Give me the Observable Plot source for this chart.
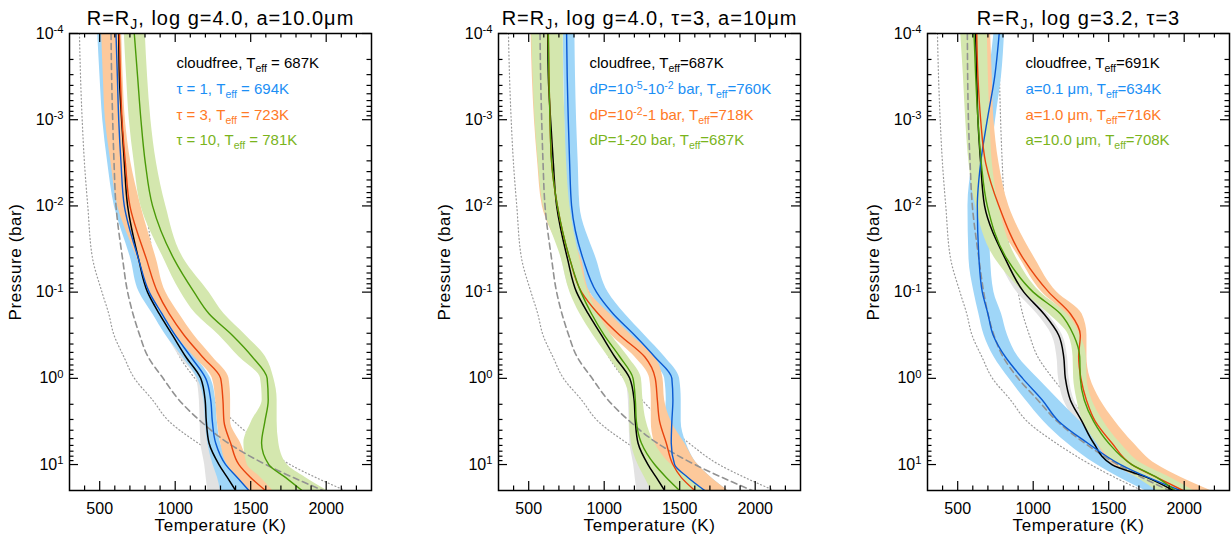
<!DOCTYPE html>
<html><head><meta charset="utf-8">
<script src="https://cdn.jsdelivr.net/npm/d3@7"></script>
<script src="https://cdn.jsdelivr.net/npm/@observablehq/plot@0.6"></script>
<style>
body{margin:0;background:#fff;}
#wrap{position:relative;width:1232px;height:538px;overflow:hidden;}
#wrap svg{position:absolute;top:0;}
</style></head><body><div id="wrap"></div>
<script>
// ---------- data (pressure in bar, temperature in K) ----------
const pressure = [0.0001,0.000316,0.001,0.00316,0.01,0.0417,0.1,0.178,0.316,0.562,1,1.78,3.16,5.62,10,14.1,20];

// panel 1: log g = 4.0, a = 10 micron, varying tau
const p1Cloudfree   = [626,630,645,663,685,758,817,894,982,1070,1169,1198,1206,1224,1290,1345,1400];
const p1CloudfreeLo = [586,590,605,623,645,718,777,854,942,1030,1140,1160,1165,1170,1195,1205,1215];
const p1CloudfreeHi = [646,650,665,683,705,778,837,914,1002,1090,1189,1218,1226,1244,1310,1365,1420];
const p1Tau1   = [608,617,626,641,663,758,828,912,1000,1103,1202,1235,1246,1268,1334,1411,1488];
const p1Tau1Lo = [487,502,520,553,597,707,762,850,938,1048,1147,1190,1200,1215,1250,1280,1300];
const p1Tau1Hi = [641,650,659,674,696,791,861,945,1033,1136,1235,1268,1279,1301,1367,1444,1521];
const p1Tau3   = [630,637,648,670,700,810,883,960,1059,1180,1301,1316,1323,1367,1422,1499,1598];
const p1Tau3Lo = [513,524,538,575,619,751,828,916,1004,1125,1246,1268,1279,1301,1345,1411,1488];
const p1Tau3Hi = [645,655,670,707,773,876,938,1026,1125,1246,1356,1367,1367,1433,1499,1576,1653];
const p1Tau10   = [729,751,773,802,850,993,1125,1224,1378,1510,1609,1616,1594,1572,1620,1730,1840];
const p1Tau10Lo = [663,678,696,729,773,927,1037,1136,1290,1422,1565,1576,1506,1455,1477,1565,1646];
const p1Tau10Hi = [802,817,839,876,938,1059,1224,1323,1466,1598,1653,1675,1675,1686,1741,1862,2005];

// panel 2: log g = 4.0, tau = 3, a = 10 micron, varying cloud pressure range
const p2Cloudfree = p1Cloudfree, p2CloudfreeLo = p1CloudfreeLo, p2CloudfreeHi = p1CloudfreeHi;
const p2Upper   = [751,755,762,771,784,861,949,1059,1202,1334,1448,1455,1448,1444,1466,1554,1666];
const p2UpperLo = [729,733,738,744,751,828,905,1015,1147,1290,1400,1411,1400,1422,1455,1532,1620];
const p2UpperHi = [806,810,817,828,839,949,1026,1136,1268,1400,1499,1510,1510,1543,1620,1708,1818];
const p2Middle   = [630,634,641,652,690,773,850,960,1103,1268,1338,1352,1367,1411,1455,1510,1600];
const p2MiddleLo = [516,524,538,560,590,740,828,927,1048,1202,1301,1312,1312,1334,1400,1466,1554];
const p2MiddleHi = [650,655,665,680,705,850,905,1037,1180,1334,1389,1400,1444,1532,1620,1708,1818];
const p2Deep   = [630,634,641,652,690,773,846,916,1000,1103,1191,1206,1213,1246,1334,1411,1499];
const p2DeepLo = [520,529,542,564,597,718,773,839,927,1026,1125,1169,1169,1180,1224,1268,1312];
const p2DeepHi = [729,731,740,751,773,839,894,960,1048,1158,1246,1257,1279,1334,1444,1554,1664];

// panel 3: log g = 3.2, tau = 3, varying particle size
const p3Cloudfree   = [619,626,634,652,678,817,938,1070,1169,1202,1213,1246,1323,1400,1521,1752,1928];
const p3CloudfreeLo = [574,581,589,607,633,772,893,1025,1124,1157,1168,1201,1278,1355,1476,1707,1883];
const p3CloudfreeHi = [644,651,659,677,703,842,963,1095,1194,1227,1238,1271,1348,1425,1546,1777,1953];
const p3Small   = [775,745,696,652,630,641,663,700,735,815,930,1060,1170,1360,1578,1760,1975];
const p3SmallLo = [740,705,652,597,568,575,608,640,675,740,839,950,1070,1224,1420,1570,1740];
const p3SmallHi = [810,790,751,718,707,718,740,790,830,900,1030,1169,1312,1470,1680,1860,2040];
const p3Mid   = [626,634,652,685,773,938,1103,1246,1312,1301,1316,1352,1411,1521,1653,1818,1992];
const p3MidLo = [619,623,630,663,718,916,1059,1213,1268,1268,1279,1301,1334,1422,1532,1686,1840];
const p3MidHi = [718,729,740,773,839,1015,1158,1323,1356,1356,1378,1444,1543,1664,1818,1980,2174];
const p3Large   = [608,619,634,656,696,828,1000,1180,1268,1308,1312,1338,1400,1499,1653,1818,1939];
const p3LargeLo = [520,538,553,575,619,751,938,1103,1235,1264,1268,1290,1330,1422,1554,1686,1818];
const p3LargeHi = [696,703,714,729,773,894,1048,1224,1312,1352,1356,1389,1466,1576,1730,1906,2060];

// reference curves (adiabats dashed, condensation curves dotted)
const adiabatG40 = [575,579,586,595,608,652,685,720,765,820,920,1025,1170,1350,1600,1780,1980];
const adiabatG32 = [564,566,571,582,597,641,672,700,740,800,900,1030,1160,1340,1560,1720,1900];
const condensA = [366,373,384,399,421,454,515,560,595,660,730,850,960,1150,1380,1540,1720];
const condensB = [773,777,784,795,810,855,900,930,975,1030,1130,1250,1390,1560,1760,1930,2126];

// axes
const xMajorTicks = [500,1000,1500,2000];
const yMajorTicks = [1e-4,1e-3,1e-2,1e-1,1,10];
const titles = [
  "R=R_{J}, log g=4.0, a=10.0μm",
  "R=R_{J}, log g=4.0, τ=3, a=10μm",
  "R=R_{J}, log g=3.2, τ=3"
];
const legends = [
  ["cloudfree, T_{eff} = 687K","τ = 1, T_{eff} = 694K","τ = 3, T_{eff} = 723K","τ = 10, T_{eff} = 781K"],
  ["cloudfree, T_{eff}=687K","dP=10^{-5}-10^{-2} bar, T_{eff}=760K","dP=10^{-2}-1 bar, T_{eff}=718K","dP=1-20 bar, T_{eff}=687K"],
  ["cloudfree, T_{eff}=691K","a=0.1 μm, T_{eff}=634K","a=1.0 μm, T_{eff}=716K","a=10.0 μm, T_{eff}=708K"]
];
const xLabel = "Temperature (K)", yLabel = "Pressure (bar)";

// ---------- styling ----------
const FONT = "'Liberation Sans', Arial, Helvetica, sans-serif";
const lineColors = ["#000000","#0a5ad2","#e8430e","#4a9a08"];
const bandColors = ["#e2e2e2","#9fd6f8","#fdc99b","#d4e7ae"];
const textColors = ["#000000","#1c8ff5","#ff7a26","#7ab41c"];
const H = 538, MT = 33, MB = 48;
const legendDy = [30,56,82,107];

const xMinorTicks = d3.range(400, 2300, 100).filter(v => v % 500 !== 0);
const yMinorTicks = [];
for (let e = -4; e <= 1; e++) for (let m = 2; m <= 9; m++) { const v = m * Math.pow(10, e); if (v < 20) yMinorTicks.push(v); }

function rows(obj) {
  return pressure.map((p, i) => { const r = {p}; for (const k in obj) r[k] = obj[k][i]; return r; });
}

function richify(svg) {
  d3.select(svg).selectAll("text").each(function() {
    const el = this, s = el.textContent;
    if (titles.includes(s)) el.setAttribute("letter-spacing", "1px");
    if (s === xLabel || s === yLabel) el.setAttribute("letter-spacing", "0.6px");
    if (!/[_^]\{/.test(s)) return;
    const parts = []; const re = /([_^])\{([^}]*)\}/g; let last = 0, m;
    while ((m = re.exec(s))) {
      if (m.index > last) parts.push({t: s.slice(last, m.index)});
      parts.push({t: m[2], k: m[1]}); last = re.lastIndex;
    }
    if (last < s.length) parts.push({t: s.slice(last)});
    while (el.firstChild) el.removeChild(el.firstChild);
    let shift = 0;
    for (const p of parts) {
      const ts = document.createElementNS("http://www.w3.org/2000/svg", "tspan");
      const target = p.k === "_" ? 0.22 : p.k === "^" ? -0.36 : 0;
      const size = p.k ? 0.7 : 1;
      const delta = target - shift;
      if (delta !== 0) ts.setAttribute("dy", (delta / size).toFixed(3) + "em");
      if (p.k) ts.setAttribute("font-size", "70%");
      ts.textContent = p.t;
      el.appendChild(ts);
      shift = target;
    }
  });
}

function panel(cfg) {
  const fw = cfg.width - cfg.ml - cfg.mr, fh = H - MT - MB;
  const marks = [];
  marks.push(Plot.line(rows({t: condensA}), {x: "t", y: "p", stroke: "#9a9a9a", strokeWidth: 1.2, strokeDasharray: "1,2.6", curve: "monotone-y", clip: true}));
  marks.push(Plot.line(rows({t: condensB}), {x: "t", y: "p", stroke: "#9a9a9a", strokeWidth: 1.2, strokeDasharray: "1,2.6", curve: "monotone-y", clip: true}));
  cfg.series.forEach((s, i) => marks.push(Plot.areaX(rows({lo: s.lo, hi: s.hi}), {y: "p", x1: "lo", x2: "hi", fill: bandColors[i], curve: "monotone-y", clip: true})));
  marks.push(Plot.line(rows({t: cfg.adiabat}), {x: "t", y: "p", stroke: "#929292", strokeWidth: 1.6, strokeDasharray: "6,4", curve: "monotone-y", clip: true}));
  cfg.series.forEach((s, i) => marks.push(Plot.line(rows({t: s.t}), {x: "t", y: "p", stroke: lineColors[i], strokeWidth: i === 0 ? 1.5 : 1.4, curve: "monotone-y", clip: true})));
  // inward ticks on all four sides
  const tk = {stroke: "#000", strokeWidth: 1.2};
  marks.push(Plot.tickX(xMajorTicks, {x: d => d, ...tk, insetTop: fh - 9}));
  marks.push(Plot.tickX(xMajorTicks, {x: d => d, ...tk, insetBottom: fh - 9}));
  marks.push(Plot.tickX(xMinorTicks, {x: d => d, ...tk, insetTop: fh - 4.5}));
  marks.push(Plot.tickX(xMinorTicks, {x: d => d, ...tk, insetBottom: fh - 4.5}));
  marks.push(Plot.tickY(yMajorTicks, {y: d => d, ...tk, insetRight: fw - 9}));
  marks.push(Plot.tickY(yMajorTicks, {y: d => d, ...tk, insetLeft: fw - 9}));
  marks.push(Plot.tickY(yMinorTicks, {y: d => d, ...tk, insetRight: fw - 4.5}));
  marks.push(Plot.tickY(yMinorTicks, {y: d => d, ...tk, insetLeft: fw - 4.5}));
  marks.push(Plot.frame({stroke: "#000", strokeWidth: 1.5}));
  marks.push(Plot.axisX(xMajorTicks, {tickSize: 0, tickPadding: 12, fontSize: 16, label: null, tickFormat: d => String(d), fill: "#000"}));
  marks.push(Plot.axisY(yMajorTicks, {tickSize: 0, tickPadding: 6, fontSize: 16, label: null, tickFormat: d => "10^{" + Math.round(Math.log10(d)) + "}", fill: "#000"}));
  marks.push(Plot.text([cfg.title], {text: d => d, frameAnchor: "top", dy: -15, fontSize: 20, lineAnchor: "middle", fill: "#000"}));
  marks.push(Plot.text([xLabel], {text: d => d, frameAnchor: "bottom", dy: 35, fontSize: 17, lineAnchor: "middle", fill: "#000"}));
  marks.push(Plot.text([yLabel], {text: d => d, frameAnchor: "left", dx: -54, rotate: -90, fontSize: 17, lineAnchor: "middle", textAnchor: "middle", fill: "#000"}));
  cfg.legend.forEach((L, i) => marks.push(Plot.text([L], {text: d => d, frameAnchor: "top-left", dx: cfg.legendDx, dy: legendDy[i], fontSize: 15, textAnchor: "start", lineAnchor: "middle", fill: textColors[i]})));
  const svg = Plot.plot({
    width: cfg.width, height: H,
    marginTop: MT, marginBottom: MB, marginLeft: cfg.ml, marginRight: cfg.mr,
    x: {domain: [300, 2300]},
    y: {type: "log", domain: [20, 1e-4]},
    style: {fontFamily: FONT, background: "transparent", overflow: "visible", color: "#000"},
    marks
  });
  richify(svg);
  svg.style.left = cfg.left + "px";
  document.getElementById("wrap").appendChild(svg);
}

panel({left: 0, width: 410, ml: 69, mr: 39, legendDx: 107, title: titles[0], legend: legends[0], adiabat: adiabatG40,
  series: [
    {t: p1Cloudfree, lo: p1CloudfreeLo, hi: p1CloudfreeHi},
    {t: p1Tau1, lo: p1Tau1Lo, hi: p1Tau1Hi},
    {t: p1Tau3, lo: p1Tau3Lo, hi: p1Tau3Hi},
    {t: p1Tau10, lo: p1Tau10Lo, hi: p1Tau10Hi}]});
panel({left: 410, width: 410, ml: 88, mr: 20, legendDx: 91, title: titles[1], legend: legends[1], adiabat: adiabatG40,
  series: [
    {t: p2Cloudfree, lo: p2CloudfreeLo, hi: p2CloudfreeHi},
    {t: p2Upper, lo: p2UpperLo, hi: p2UpperHi},
    {t: p2Middle, lo: p2MiddleLo, hi: p2MiddleHi},
    {t: p2Deep, lo: p2DeepLo, hi: p2DeepHi}]});
panel({left: 820, width: 412, ml: 107, mr: 3, legendDx: 98, title: titles[2], legend: legends[2], adiabat: adiabatG32,
  series: [
    {t: p3Cloudfree, lo: p3CloudfreeLo, hi: p3CloudfreeHi},
    {t: p3Small, lo: p3SmallLo, hi: p3SmallHi},
    {t: p3Mid, lo: p3MidLo, hi: p3MidHi},
    {t: p3Large, lo: p3LargeLo, hi: p3LargeHi}]});
</script></body></html>
